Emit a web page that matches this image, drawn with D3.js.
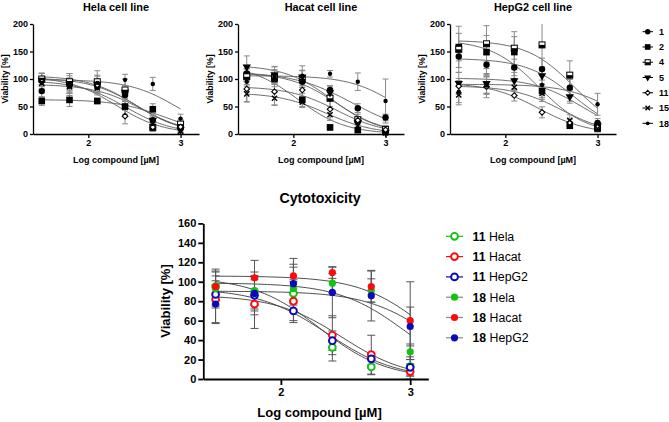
<!DOCTYPE html>
<html><head><meta charset="utf-8">
<script src="https://cdn.jsdelivr.net/npm/d3@7"></script>
<style>body{margin:0;background:#fff}svg{display:block}text{font-family:Arial,"Liberation Sans",sans-serif}</style>
</head><body><svg id="c" width="669" height="422"></svg>
<script>
// ---------- data ----------
const logConc = [1.495, 1.796, 2.097, 2.398, 2.699, 3.0];
const compounds = ["1", "2", "4", "5", "11", "15", "18"];
const cellLines = ["Hela", "Hacat", "HepG2"];
const panelTitles = ["Hela cell line", "Hacat cell line", "HepG2 cell line"];

const helaValues = [
  [78, 88, 86, 71, 25, 10],
  [60, 62, 60, 50, 45, 15],
  [100, 95, 95, 80, 12, 18],
  [98, 92, 90, 76, 25, 8],
  [95, 90, 88, 32.5, 12.4, 12.8],
  [92, 86, 84, 48, 20, 5],
  [93, 91, 93, 98.5, 91, 28]
];
const helaSD = [
  [12, 10, 10, 12, 8, 6],
  [8, 12, 5, 15, 10, 8],
  [10, 15, 12, 20, 6, 8],
  [12, 10, 15, 12, 8, 6],
  [15, 20, 12, 14, 8, 10],
  [10, 12, 10, 12, 8, 6],
  [18, 15, 22, 10, 12, 8]
];
const hacatValues = [
  [110, 105, 95, 80, 47, 30],
  [107, 100, 62, 12, 7, 5],
  [104, 103, 100, 65, 26, 8],
  [122, 108, 104, 75, 21, 3],
  [82, 77, 80, 45, 25, 7.6],
  [73, 65, 58, 35, 15, 2],
  [95, 104, 106, 109.5, 95, 60]
];
const hacatSD = [
  [15, 12, 10, 8, 8, 6],
  [12, 10, 12, 5, 4, 3],
  [14, 12, 15, 15, 10, 6],
  [20, 15, 12, 12, 10, 5],
  [24, 25, 22, 20, 20, 8],
  [14, 12, 10, 10, 8, 4],
  [18, 18, 18, 6, 16, 40]
];
const hepg2Values = [
  [141, 126, 121, 118, 84, 20],
  [158, 149, 149, 78, 15, 10],
  [154, 164, 156, 162, 107, 12],
  [92, 92, 97, 106, 68, 15],
  [87, 86, 70, 39.4, 20.7, 12],
  [71, 89, 85, 74, 25, 10],
  [77, 88, 98, 89, 85.7, 54]
];
const hepg2SD = [
  [20, 18, 15, 20, 15, 8],
  [25, 30, 28, 12, 5, 5],
  [42, 33, 30, 40, 26, 8],
  [20, 18, 15, 15, 12, 6],
  [14, 20, 10, 10, 6, 8],
  [18, 15, 15, 15, 10, 5],
  [20, 16, 20, 26, 26, 20]
];
const topYTicks = [0, 50, 100, 150, 200];
const bottomYTicks = [0, 20, 40, 60, 80, 100, 120, 140, 160];
const xTicks = [2, 3];
const cytoCompounds = ["11", "18"];

// ---------- helpers ----------
function fit(xs, ys) {
  let best = {err: Infinity};
  for (let c = 1.6; c <= 4.5; c += 0.01) {
    for (let h = 0.4; h <= 1.7; h += 0.02) {
      const g = xs.map(x => 1 / (1 + Math.pow(10, h * (x - c))));
      let sgy = 0, sgg = 0;
      g.forEach((gi, i) => { sgy += gi * ys[i]; sgg += gi * gi; });
      const top = sgy / sgg;
      let err = 0;
      g.forEach((gi, i) => { const r = ys[i] - top * gi; err += r * r; });
      if (err < best.err) best = {err, top, c, h};
    }
  }
  return best;
}
const fitCache = {};
function curveFor(key, ys) {
  if (!fitCache[key]) fitCache[key] = fit(logConc, ys);
  const p = fitCache[key];
  return d3.range(0, 61).map(i => {
    const x = logConc[0] + (logConc[5] - logConc[0]) * i / 60;
    return [x, p.top / (1 + Math.pow(10, p.h * (x - p.c)))];
  });
}

const svg = d3.select("#c");
const datasets = [
  {values: helaValues, sd: helaSD},
  {values: hacatValues, sd: hacatSD},
  {values: hepg2Values, sd: hepg2SD}
];

function drawMarker(g, comp, cx, cy, scale) {
  const s = scale || 1;
  if (comp === "1") {
    g.append("circle").attr("cx", cx).attr("cy", cy).attr("r", 3.2 * s).attr("fill", "#000");
  } else if (comp === "2") {
    g.append("rect").attr("x", cx - 3.3 * s).attr("y", cy - 3.3 * s).attr("width", 6.6 * s).attr("height", 6.6 * s).attr("fill", "#000");
  } else if (comp === "4") {
    g.append("rect").attr("x", cx - 3 * s).attr("y", cy - 3 * s).attr("width", 6 * s).attr("height", 6 * s).attr("fill", "#fff").attr("stroke", "#000").attr("stroke-width", 1);
    g.append("rect").attr("x", cx - 3 * s).attr("y", cy).attr("width", 6 * s).attr("height", 3 * s).attr("fill", "#000");
  } else if (comp === "5") {
    g.append("path").attr("d", d3.symbol(d3.symbolTriangle, 30 * s * s)()).attr("transform", `translate(${cx},${cy}) rotate(180)`).attr("fill", "#000");
  } else if (comp === "11") {
    g.append("path").attr("d", `M${cx},${cy - 2.8 * s}L${cx + 2.8 * s},${cy}L${cx},${cy + 2.8 * s}L${cx - 2.8 * s},${cy}Z`).attr("fill", "#fff").attr("stroke", "#000").attr("stroke-width", 1.1);
  } else if (comp === "15") {
    g.append("path").attr("d", `M${cx - 2.6 * s},${cy - 2.6 * s}L${cx + 2.6 * s},${cy + 2.6 * s}M${cx - 2.6 * s},${cy + 2.6 * s}L${cx + 2.6 * s},${cy - 2.6 * s}`).attr("stroke", "#000").attr("stroke-width", 1.4);
  } else {
    g.append("circle").attr("cx", cx).attr("cy", cy).attr("r", 2.2 * s).attr("fill", "#000");
  }
}

// ---------- top panels ----------
const panelLeft = [33, 238, 450];
const panelWidth = 166;
datasets.forEach((ds, pi) => {
  const x = d3.scaleLinear().domain([1.4, 3.2]).range([panelLeft[pi], panelLeft[pi] + panelWidth]);
  const y = d3.scaleLinear().domain([0, 200]).range([134, 24]).clamp(true);
  const g = svg.append("g");
  ds.values.forEach((vals, ci) => {
    g.append("path").datum(curveFor(cellLines[pi] + compounds[ci], vals))
      .attr("d", d3.line().x(d => x(d[0])).y(d => y(d[1])))
      .attr("fill", "none").attr("stroke", "#5a5a5a").attr("stroke-width", 0.9);
  });
  ds.values.forEach((vals, ci) => {
    vals.forEach((v, i) => {
      const sd = ds.sd[ci][i];
      const px = x(logConc[i]);
      const hiClipped = v + sd > 200;
      g.append("line").attr("x1", px).attr("x2", px).attr("y1", y(v - sd)).attr("y2", y(v + sd)).attr("stroke", "#8a8a8a").attr("stroke-width", 1);
      g.append("line").attr("x1", px - 3).attr("x2", px + 3).attr("y1", y(v - sd)).attr("y2", y(v - sd)).attr("stroke", "#8a8a8a").attr("stroke-width", 1);
      if (!hiClipped) g.append("line").attr("x1", px - 3).attr("x2", px + 3).attr("y1", y(v + sd)).attr("y2", y(v + sd)).attr("stroke", "#8a8a8a").attr("stroke-width", 1);
    });
  });
  ds.values.forEach((vals, ci) => {
    vals.forEach((v, i) => drawMarker(g, compounds[ci], x(logConc[i]), y(v)));
  });
  const ya = g.append("g").attr("transform", `translate(${panelLeft[pi]},0)`)
    .call(d3.axisLeft(y).tickValues(topYTicks).tickSize(3).tickSizeOuter(0).tickPadding(2));
  const xa = g.append("g").attr("transform", `translate(0,134)`)
    .call(d3.axisBottom(x).tickValues(xTicks).tickSize(4).tickSizeOuter(0).tickPadding(2).tickFormat(d3.format("d")));
  [ya, xa].forEach(a => {
    a.selectAll("path,line").attr("stroke", "#000").attr("stroke-width", 1.3);
    a.selectAll("text").attr("font-size", 9).attr("font-weight", "bold").attr("fill", "#000").attr("font-family", "Arial, Liberation Sans, sans-serif");
  });
  const cx = panelLeft[pi] + panelWidth / 2;
  g.append("text").attr("x", cx).attr("y", 10.5).attr("text-anchor", "middle").attr("font-size", 10.9).attr("font-weight", "bold").text(panelTitles[pi]);
  g.append("text").attr("x", cx).attr("y", 162.5).attr("text-anchor", "middle").attr("font-size", 9).attr("font-weight", "bold").text("Log compound [µM]");
  g.append("text").attr("transform", `translate(${panelLeft[pi] - 25},79) rotate(-90)`).attr("text-anchor", "middle").attr("font-size", 8.7).attr("font-weight", "bold").text("Viability [%]");
});

compounds.forEach((c, i) => {
  const ly = 31.7 + i * 15.27;
  svg.append("line").attr("x1", 642.5).attr("x2", 653).attr("y1", ly).attr("y2", ly).attr("stroke", "#000").attr("stroke-width", 1);
  drawMarker(svg, c, 647.7, ly, 0.85);
  svg.append("text").attr("x", 659).attr("y", ly + 3.2).attr("font-size", 9).attr("font-weight", "bold").text(c);
});

// ---------- bottom chart ----------
const bx = d3.scaleLinear().domain([1.4, 3.14]).range([203.3, 428.3]);
const by = d3.scaleLinear().domain([0, 160]).range([379, 223.4]);
const colors = {Hela: "#12c312", Hacat: "#ff0a0a", HepG2: "#0a0ab8"};
const bg = svg.append("g");
const series = [];
cytoCompounds.forEach(comp => {
  const ci = compounds.indexOf(comp);
  cellLines.forEach((cl, li) => {
    series.push({comp, cl, values: datasets[li].values[ci], sd: datasets[li].sd[ci]});
  });
});
series.forEach(s => {
  bg.append("path").datum(curveFor(s.cl + s.comp, s.values))
    .attr("d", d3.line().x(d => bx(d[0])).y(d => by(d[1])))
    .attr("fill", "none").attr("stroke", "#3a3a3a").attr("stroke-width", 0.9);
});
series.forEach(s => {
  s.values.forEach((v, i) => {
    const px = bx(logConc[i]);
    const lo = Math.max(0, v - s.sd[i]), hi = v + s.sd[i];
    bg.append("line").attr("x1", px).attr("x2", px).attr("y1", by(lo)).attr("y2", by(hi)).attr("stroke", "#555").attr("stroke-width", 1);
    [lo, hi].forEach(e => bg.append("line").attr("x1", px - 4).attr("x2", px + 4).attr("y1", by(e)).attr("y2", by(e)).attr("stroke", "#555").attr("stroke-width", 1));
  });
});
function cytoMarker(g, s, cx, cy) {
  if (s.comp === "11") {
    g.append("circle").attr("cx", cx).attr("cy", cy).attr("r", 3.4).attr("fill", "#fff").attr("stroke", colors[s.cl]).attr("stroke-width", 1.9);
  } else {
    g.append("circle").attr("cx", cx).attr("cy", cy).attr("r", 3.6).attr("fill", colors[s.cl]);
  }
}
series.forEach(s => {
  s.values.forEach((v, i) => cytoMarker(bg, s, bx(logConc[i]), by(v)));
});
const bya = bg.append("g").attr("transform", "translate(203.3,0)")
  .call(d3.axisLeft(by).tickValues(bottomYTicks).tickSize(5).tickSizeOuter(0).tickPadding(2));
const bxa = bg.append("g").attr("transform", "translate(0,379)")
  .call(d3.axisBottom(bx).tickValues(xTicks).tickSize(6).tickSizeOuter(0).tickPadding(3).tickFormat(d3.format("d")));
[bya, bxa].forEach(a => {
  a.selectAll("path,line").attr("stroke", "#000").attr("stroke-width", 1.8);
  a.selectAll("text").attr("font-size", 11).attr("font-weight", "bold").attr("fill", "#000").attr("font-family", "Arial, Liberation Sans, sans-serif");
});
bg.append("text").attr("x", 320).attr("y", 203).attr("text-anchor", "middle").attr("font-size", 14.2).attr("font-weight", "bold").text("Cytotoxicity");
bg.append("text").attr("x", 319.5).attr("y", 416.5).attr("text-anchor", "middle").attr("font-size", 13).attr("font-weight", "bold").text("Log compound [µM]");
bg.append("text").attr("transform", "translate(170,301) rotate(-90)").attr("text-anchor", "middle").attr("font-size", 13).attr("font-weight", "bold").text("Viability [%]");

series.forEach((s, i) => {
  const ly = 236.3 + i * 20.3;
  bg.append("line").attr("x1", 446).attr("x2", 463).attr("y1", ly).attr("y2", ly)
    .attr("stroke", s.comp === "11" ? colors[s.cl] : "#888").attr("stroke-width", 1.2);
  cytoMarker(bg, s, 454.5, ly);
  const t = bg.append("text").attr("x", 472.5).attr("y", ly + 4.3).attr("font-size", 12.3);
  t.append("tspan").attr("font-weight", "bold").text(s.comp);
  t.append("tspan").text(" " + s.cl);
});
</script></body></html>
